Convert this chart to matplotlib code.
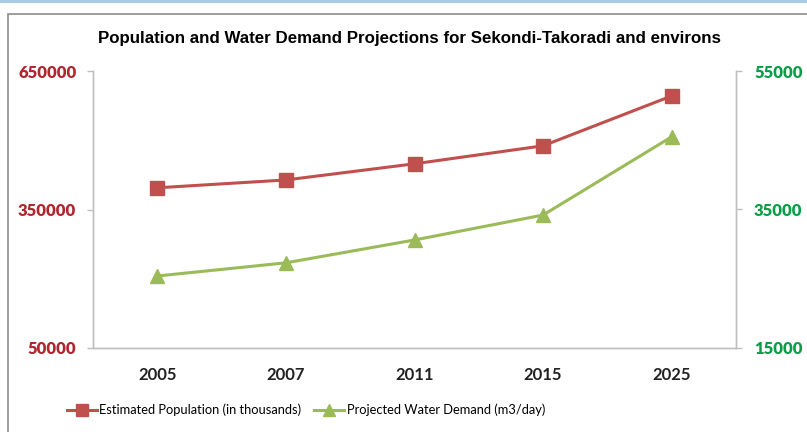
import matplotlib as mpl
import matplotlib.pyplot as plt
from matplotlib.lines import Line2D
from matplotlib.patches import Rectangle


years = ["2005", "2007", "2011", "2015", "2025"]
population = [397000, 414000, 449000, 488000, 596000]
water_demand = [25400, 27300, 30600, 34200, 45500]

left_ticks = [50000, 350000, 650000]
right_ticks = [15000, 35000, 55000]

RED = "#C0504D"
GREEN = "#9BBB59"
RED_TXT = "#B0262E"
GREEN_TXT = "#0A9E48"
GRID = "#BFBFBF"

mpl.rcParams["font.family"] = ["Lato", "DejaVu Sans"]
mpl.rcParams["font.weight"] = "bold"

fig = plt.figure(figsize=(8.07, 4.32), dpi=100)
ax = fig.add_axes([93 / 807, 1 - 348 / 432, (736 - 93) / 807, (348 - 71) / 432])
ax2 = ax.twinx()

xs = range(len(years))
ax.plot(xs, population, color=RED, lw=2.2, marker="s", ms=10,
        label="Estimated Population (in thousands)", zorder=3)
ax2.plot(xs, water_demand, color=GREEN, lw=2.2, marker="^", ms=10,
         label="Projected Water Demand (m3/day)", zorder=3)

ax.set_xlim(-0.5, len(years) - 0.5)
ax.set_ylim(left_ticks[0], left_ticks[-1])
ax2.set_ylim(right_ticks[0], right_ticks[-1])
ax.set_xticks(list(xs))
ax.set_xticklabels(years, fontweight="bold")
ax.set_yticks(left_ticks)
ax.set_yticklabels([str(v) for v in left_ticks], fontweight="heavy")
ax2.set_yticks(right_ticks)
ax2.set_yticklabels([str(v) for v in right_ticks], fontweight="heavy")

for a in (ax, ax2):
    a.spines["top"].set_visible(False)
    for s in ("left", "right", "bottom"):
        a.spines[s].set_color(GRID)
        a.spines[s].set_linewidth(1.0)
    a.tick_params(colors=GRID, length=4, width=1.0)

ax.tick_params(axis="x", length=0, pad=14, labelsize=12, labelcolor="#222222")
ax.tick_params(axis="y", pad=8, labelsize=12, labelcolor=RED_TXT)
ax2.tick_params(axis="y", pad=9, labelsize=12, labelcolor=GREEN_TXT)

title = fig.text(409 / 807, 1 - 38 / 432,
                 "Population and Water Demand Projections for Sekondi-Takoradi and environs",
                 ha="center", va="center", fontsize=10, fontweight="bold",
                 family=["Liberation Sans Narrow", "Liberation Sans", "DejaVu Sans"])
# scale the title so it spans the same width as in the reference (~623 px)
renderer = fig.canvas.get_renderer()
w = title.get_window_extent(renderer).width
title.set_fontsize(10 * 623 / w)

handles = [Line2D([], [], color=RED, lw=2.2, marker="s", ms=9),
           Line2D([], [], color=GREEN, lw=2.2, marker="^", ms=9)]
labels = ["Estimated Population (in thousands)", "Projected Water Demand (m3/day)"]
fig.legend(handles, labels, loc="center", bbox_to_anchor=(306 / 807, 1 - 410 / 432),
           ncol=2, frameon=False, prop={"size": 9.3, "weight": "normal"},
           handlelength=2.3, columnspacing=1.0, handletextpad=0.2)

# chart border and top strip
fig.patches.append(Rectangle((8 / 807, -0.05), 1.1, 1 - 14 / 432 + 0.05,
                             transform=fig.transFigure, fill=False,
                             edgecolor="#8C8C8C", lw=1.2))
fig.patches.append(Rectangle((0, 1 - 3 / 432), 1, 3 / 432,
                             transform=fig.transFigure, color="#A9CBE4", lw=0))

fig.savefig("out.png", dpi=100)
